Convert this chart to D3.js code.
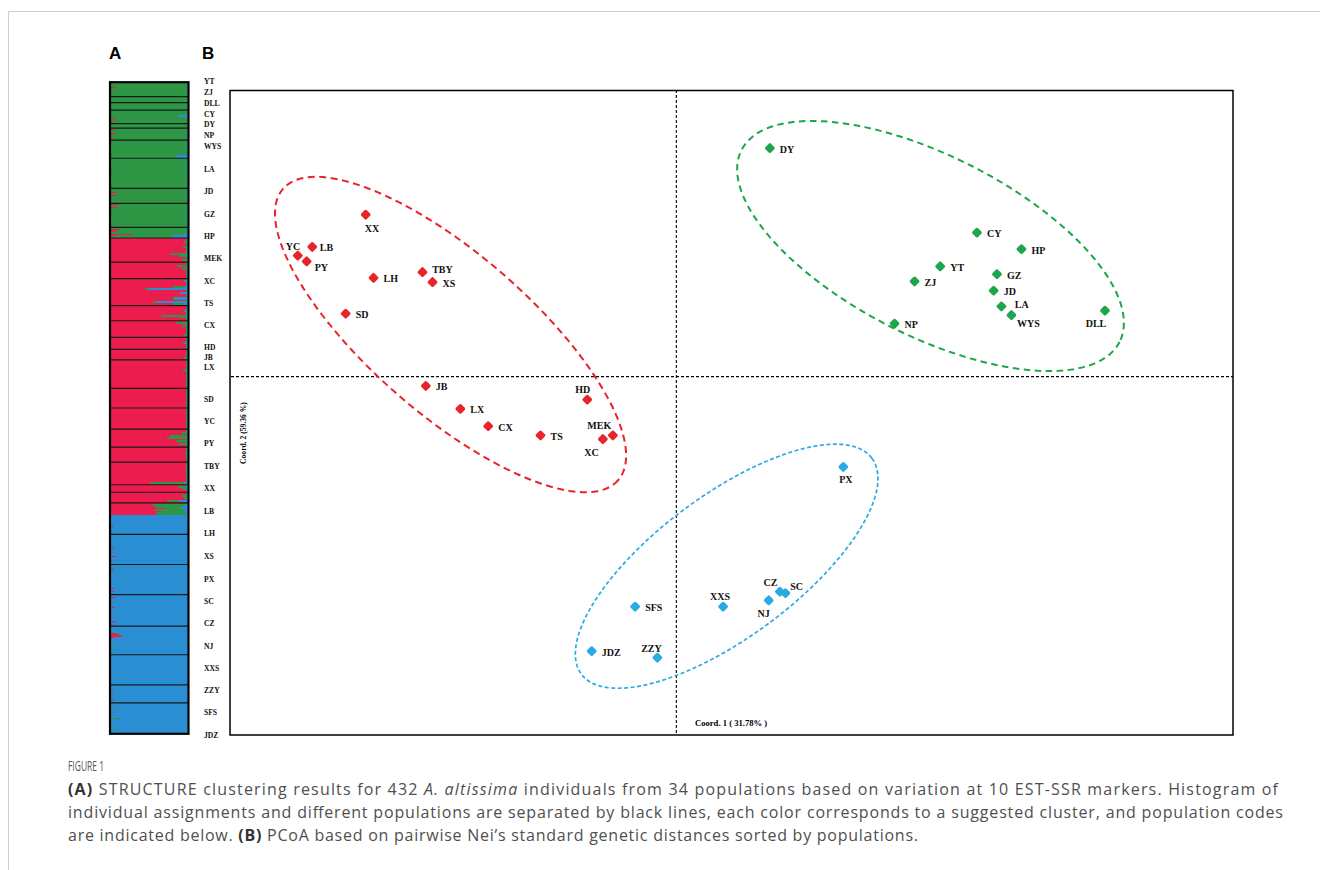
<!DOCTYPE html>
<html>
<head>
<meta charset="utf-8">
<script src="https://cdn.jsdelivr.net/npm/d3@7"></script>
<style>
  body { margin: 0; background: #fff; }
  svg { display: block; }
</style>
</head>
<body>
<svg id="canvas"></svg>
<script>
// ---- Panel A : STRUCTURE (432 individuals, K = 3) ----
let nInd = 432
let popLabels = ['YT','ZJ','DLL','CY','DY','NP','WYS','LA','JD','GZ','HP','MEK','XC','TS','CX','HD','JB','LX',
  'SD','YC','PY','TBY','XX','LB','LH','XS','PX','SC','CZ','NJ','XXS','ZZY','SFS','JDZ']
// label position on the individual axis
let popLabelPos = [-0.9, 5.8, 13.5, 20.6, 27.4, 34.6, 42.3, 57.2, 72.2, 87.1, 101.7, 116.5, 131.6, 146.4, 161.3,
  175.9, 182.3, 188.8, 210, 224.6, 239.5, 254.4, 269.4, 284.3, 299.3, 314.4, 329.5, 344.1, 359.1, 374, 389,
  403.6, 418.5, 433.3]
// black lines between populations (individual index)
let popBreaks = [9, 13, 18, 27, 30, 38, 50, 70, 80, 96, 103, 119, 130, 148, 158, 169, 177, 184, 203, 216, 230,
  242, 252, 267, 272, 279, 300, 320, 340, 361, 380, 400, 412]
// individuals before 103 -> green, before 287 -> red, rest -> blue
let clusterBreaks = [103, 287]
let clusterMain = ['green', 'red', 'blue']
// admixed individuals: [index, red, green, blue]
let admix = [
  [2,.05,0,.015],[4,.04,0,.015],[21,0,0,.13],[23,.06,0,.015],[25,.04,0,.015],[30,.05,0,.015],[33,.06,0,.015],
  [36,.04,0,.015],[48,0,0,.15],[49,0,0,.12],[61,.02,0,.015],[72,.08,0,.015],[74,.06,0,.015],[80,.1,0,.015],
  [82,.08,0,.015],[84,.03,0,.015],[97,.12,0,.015],[98,.06,0,.015],[100,.28,0,.05],[101,.05,0,.2],[102,0,0,.22],
  [105,0,.04,.012],[108,0,.05,.012],[113,0,.22,.02],[114,0,.1,.012],[117,0,.05,.03],[121,0,.13,.012],
  [123,0,.06,.012],[131,0,.01,.04],[135,0,.15,.05],[136,0,.04,.52],[139,0,.01,.1],[142,0,.02,.18],
  [143,0,.1,.1],[145,0,.05,.4],[146,0,.15,.05],[151,0,.01,.04],[154,0,.33,.02],[155,0,.1,.02],
  [159,0,.12,.03],[161,0,.06,.012],[167,0,.04,.012],[172,0,.01,.05],[182,0,.04,.012],[190,0,.05,.012],
  [191,0,.03,.012],[231,0,.01,.02],[232,0,.06,.012],[234,0,.22,.012],[235,0,.26,.012],[237,0,.15,.012],
  [239,0,.1,.012],[245,0,.01,.03],[257,0,.03,.012],[265,0,.44,.05],[266,0,.3,.03],[268,0,.1,.03],
  [269,0,.05,.012],[274,0,.06,.012],[275,0,.04,.012],[277,0,.15,.12],[278,0,.05,.012],[280,0,.42,.04],
  [281,0,.36,.06],[282,0,.2,.1],[283,0,.42,.02],[284,0,.3,.05],[285,0,.38,.03],[286,0,.35,.04],
  [294,.03,0,0],[295,0,.02,0],[302,0,.03,0],[309,.04,0,0],[314,.07,0,0],[317,0,.04,0],[323,.03,0,0],
  [335,.03,0,0],[337,.04,0,0],[341,.05,0,0],[348,.04,0,0],[350,.03,0,0],[357,.05,0,0],[359,.02,0,0],
  [365,.05,.05,0],[366,.1,.03,0],[367,.16,0,0],[368,.04,0,0],[371,0,.03,0],[376,0,.04,0],[378,0,.03,0],
  [392,.03,0,0],[403,.03,0,0],[406,0,.03,0],[409,.04,0,0],[416,0,.05,0],[418,.03,0,0],[422,0,.12,0],
  [429,0,.06,0]
]

// ---- Panel B : PCoA ----
let pcoaNames = ['XX','LB','YC','PY','LH','TBY','XS','SD','JB','LX','CX','TS','HD','XC','MEK',
  'DY','CY','HP','YT','ZJ','GZ','JD','LA','WYS','NP','DLL',
  'PX','CZ','SC','NJ','XXS','SFS','JDZ','ZZY']
let coord1 = [-0.279,-0.327,-0.340,-0.332,-0.272,-0.228,-0.219,-0.297,-0.225,-0.194,-0.169,-0.122,-0.080,-0.066,-0.057,
  0.084,0.270,0.310,0.237,0.214,0.288,0.285,0.292,0.301,0.196,0.385,
  0.150,0.093,0.098,0.083,0.042,-0.037,-0.076,-0.017]
let coord2 = [0.226,0.181,0.169,0.161,0.138,0.146,0.132,0.088,-0.013,-0.045,-0.069,-0.082,-0.032,-0.087,-0.082,
  0.319,0.201,0.178,0.154,0.133,0.143,0.120,0.098,0.086,0.074,0.092,
  -0.126,-0.300,-0.302,-0.312,-0.321,-0.321,-0.383,-0.392]
let pcoaGroup = ['red','red','red','red','red','red','red','red','red','red','red','red','red','red','red',
  'green','green','green','green','green','green','green','green','green','green','green',
  'blue','blue','blue','blue','blue','blue','blue','blue']
// cluster ellipses in coordinate units: centre, semi-major vector, semi-minor vector
let ellipseGroup = ['red', 'green', 'blue']
let ellipseCenter = [[-0.2028, 0.0588], [0.2283, 0.1823], [0.0452, -0.2645]]
let ellipseMajor = [[0.1505, -0.2033], [0.1698, -0.1338], [0.1305, 0.1506]]
let ellipseMinor = [[-0.0471, -0.0843], [-0.0366, -0.1120], [0.0380, -0.0795]]

let width = 1320
let height = 870

let structColors = { red: '#ec1c4f', green: '#2e9746', blue: '#2a8fd2' }
let pcoaColors = { red: '#e8242a', green: '#1fa54b', blue: '#29aae2' }
let ellDash = { red: '7,4.5', green: '6.5,4.5', blue: '4,2.5' }
let ellWidth = { red: 2, green: 2, blue: 1.7 }

let defaultLabel = [10, 4.5, 'start']
let labelPlace = {
  XX: [-1, 17, 'start'], YC: [2.5, -6, 'end'], PY: [8, 9.5, 'start'], TBY: [9.7, 1, 'start'],
  LB: [7.5, 4.5, 'start'], HD: [-4.5, -6.5, 'middle'], MEK: [-13.6, -6.5, 'middle'],
  XC: [-11.3, 17, 'middle'], LA: [13.3, 1.5, 'start'], WYS: [5.6, 11.5, 'start'],
  DLL: [-9, 16.5, 'middle'], PX: [2.5, 16, 'middle'], CZ: [-9.3, -6, 'middle'],
  SC: [4.7, -3, 'start'], NJ: [-5, 16.5, 'middle'], XXS: [-3, -7, 'middle'], ZZY: [-6, -6, 'middle']
}

let serif = "'Liberation Serif', 'Times New Roman', serif"

let svg = d3.select('#canvas')
  .attr('width', width)
  .attr('height', height)

// card border
svg.append('path')
  .attr('d', `M8.5,${height} V11.5 H${width}`)
  .attr('fill', 'none')
  .attr('stroke', '#cfcfcf')
  .attr('stroke-width', 1)

// panel letters
svg.selectAll('text.panel')
  .data([['A', 109], ['B', 202]])
  .enter()
  .append('text')
  .attr('class', 'panel')
  .attr('x', d => d[1])
  .attr('y', 59)
  .attr('font-family', "'Liberation Sans', Arial, sans-serif")
  .attr('font-weight', 'bold')
  .attr('font-size', 17)
  .text(d => d[0])

// ---------- Panel A ----------
let xA = d3.scaleLinear().domain([0, 1]).range([111, 188])
let yA = d3.scaleLinear().domain([0, nInd]).range([83, 733])

let individuals = d3.range(nInd).map(i => {
  let c = i < clusterBreaks[0] ? 0 : (i < clusterBreaks[1] ? 1 : 2)
  let main = clusterMain[c]
  let row = { i: i, red: 0, green: 0, blue: 0 }
  if (main === 'green') row.blue = 0.015
  if (main === 'red') { row.green = 0.008; row.blue = 0.012 }
  let found = admix.find(a => a[0] === i)
  if (found) { row.red = found[1]; row.green = found[2]; row.blue = found[3] }
  row[main] = 0
  row[main] = 1 - row.red - row.green - row.blue
  return row
})

let stacked = d3.stack().keys(['red', 'green', 'blue'])(individuals)

let gA = svg.append('g').attr('id', 'structure')

gA.selectAll('g.layer')
  .data(stacked)
  .enter()
  .append('g')
  .attr('class', 'layer')
  .attr('fill', d => structColors[d.key])
  .attr('shape-rendering', 'crispEdges')
  .selectAll('rect')
  .data(d => d)
  .enter()
  .append('rect')
  .attr('x', d => xA(d[0]))
  .attr('width', d => Math.max(0, xA(d[1]) - xA(d[0])))
  .attr('y', d => yA(d.data.i))
  .attr('height', d => yA(d.data.i + 1) - yA(d.data.i) + 0.5)

gA.selectAll('line.sep')
  .data(popBreaks)
  .enter()
  .append('line')
  .attr('class', 'sep')
  .attr('x1', xA(0))
  .attr('x2', xA(1))
  .attr('y1', d => yA(d))
  .attr('y2', d => yA(d))
  .attr('stroke', '#1a1a1a')
  .attr('stroke-width', 1.2)

gA.append('rect')
  .attr('x', xA(0) - 1)
  .attr('y', yA(0) - 0.8)
  .attr('width', xA(1) - xA(0) + 1.5)
  .attr('height', yA(nInd) - yA(0) + 1.6)
  .attr('fill', 'none')
  .attr('stroke', '#000')
  .attr('stroke-width', 2.2)

gA.selectAll('text.pop')
  .data(popLabels)
  .enter()
  .append('text')
  .attr('class', 'pop')
  .attr('x', 204)
  .attr('y', (d, i) => yA(popLabelPos[i]) + 2.8)
  .attr('font-family', serif)
  .attr('font-weight', 'bold')
  .attr('font-size', 7.6)
  .attr('fill', '#111')
  .text(d => d)

// ---------- Panel B ----------
let xScale = d3.scaleLinear().domain([-0.4, 0.5]).range([231, 1233])
let yScale = d3.scaleLinear().domain([-0.5, 0.4]).range([735, 90])

let gB = svg.append('g').attr('id', 'pcoa')

gB.append('rect')
  .attr('x', xScale(-0.4) - 1)
  .attr('y', yScale(0.4) + 0.5)
  .attr('width', xScale(0.5) - xScale(-0.4) + 1)
  .attr('height', yScale(-0.5) - yScale(0.4) - 0.5)
  .attr('fill', 'none')
  .attr('stroke', '#000')
  .attr('stroke-width', 1.5)

gB.append('line')
  .attr('x1', xScale(0)).attr('x2', xScale(0))
  .attr('y1', yScale(0.4)).attr('y2', yScale(-0.5))
  .attr('stroke', '#000').attr('stroke-width', 1.1).attr('stroke-dasharray', '3,2')

gB.append('line')
  .attr('x1', xScale(-0.4)).attr('x2', xScale(0.5))
  .attr('y1', yScale(0)).attr('y2', yScale(0))
  .attr('stroke', '#000').attr('stroke-width', 1.1).attr('stroke-dasharray', '3,2')

let ellLine = d3.line().curve(d3.curveLinearClosed)

gB.selectAll('path.ell')
  .data(ellipseGroup)
  .enter()
  .append('path')
  .attr('class', 'ell')
  .attr('d', (g, k) => {
    let pts = d3.range(0, 2 * Math.PI, Math.PI / 90).map(t => {
      let cx = ellipseCenter[k][0] + ellipseMajor[k][0] * Math.cos(t) + ellipseMinor[k][0] * Math.sin(t)
      let cy = ellipseCenter[k][1] + ellipseMajor[k][1] * Math.cos(t) + ellipseMinor[k][1] * Math.sin(t)
      return [xScale(cx), yScale(cy)]
    })
    return ellLine(pts)
  })
  .attr('fill', 'none')
  .attr('stroke', g => pcoaColors[g])
  .attr('stroke-width', g => ellWidth[g])
  .attr('stroke-dasharray', g => ellDash[g])

gB.selectAll('rect.dot')
  .data(pcoaNames)
  .enter()
  .append('rect')
  .attr('class', 'dot')
  .attr('x', -3.9)
  .attr('y', -3.9)
  .attr('width', 7.8)
  .attr('height', 7.8)
  .attr('rx', 1.6)
  .attr('transform', (d, i) => `translate(${xScale(coord1[i])},${yScale(coord2[i])}) rotate(45)`)
  .attr('fill', (d, i) => pcoaColors[pcoaGroup[i]])

gB.selectAll('text.lab')
  .data(pcoaNames)
  .enter()
  .append('text')
  .attr('class', 'lab')
  .attr('x', (d, i) => xScale(coord1[i]) + (labelPlace[d] || defaultLabel)[0])
  .attr('y', (d, i) => yScale(coord2[i]) + (labelPlace[d] || defaultLabel)[1])
  .attr('text-anchor', d => (labelPlace[d] || defaultLabel)[2])
  .attr('font-family', serif)
  .attr('font-weight', 'bold')
  .attr('font-size', 10)
  .attr('fill', '#111')
  .text(d => d)

gB.append('text')
  .attr('x', 695)
  .attr('y', 726)
  .attr('font-family', serif)
  .attr('font-weight', 'bold')
  .attr('font-size', 8.6)
  .text('Coord. 1 ( 31.78% )')

gB.append('text')
  .attr('transform', 'translate(246,433) rotate(-90)')
  .attr('text-anchor', 'middle')
  .attr('font-family', serif)
  .attr('font-weight', 'bold')
  .attr('font-size', 7.6)
  .text('Coord. 2  (59.36 %)')

// ---------- caption ----------
let capFont = "'Open Sans', 'Noto Sans', sans-serif"
svg.append('text')
  .attr('x', 68).attr('y', 771)
  .attr('font-family', capFont).attr('font-size', 14.5).attr('fill', '#555')
  .attr('textLength', 36).attr('lengthAdjust', 'spacingAndGlyphs')
  .text('FIGURE 1')

let captionLines = [
  [['(A)', 'b'], [' STRUCTURE clustering results for 432 ', ''], ['A. altissima', 'i'],
   [' individuals from 34 populations based on variation at 10 EST-SSR markers. Histogram of', '']],
  [['individual assignments and different populations are separated by black lines, each color corresponds to a suggested cluster, and population codes', '']],
  [['are indicated below. ', ''], ['(B)', 'b'], [' PCoA based on pairwise Nei\u2019s standard genetic distances sorted by populations.', '']]
]
let captionWidths = [1210, 1215, 850]

captionLines.forEach((line, k) => {
  let t = svg.append('text')
    .attr('x', 68).attr('y', 795 + k * 23.2)
    .attr('font-family', capFont).attr('font-size', 16).attr('fill', '#4f4f4f')
    .attr('textLength', captionWidths[k]).attr('lengthAdjust', 'spacing')
    .attr('xml:space', 'preserve')
  line.forEach(part => {
    t.append('tspan')
      .attr('font-weight', part[1] === 'b' ? 'bold' : null)
      .attr('font-style', part[1] === 'i' ? 'italic' : null)
      .attr('fill', part[1] === 'b' ? '#333' : null)
      .text(part[0])
  })
})
</script>
</body>
</html>
